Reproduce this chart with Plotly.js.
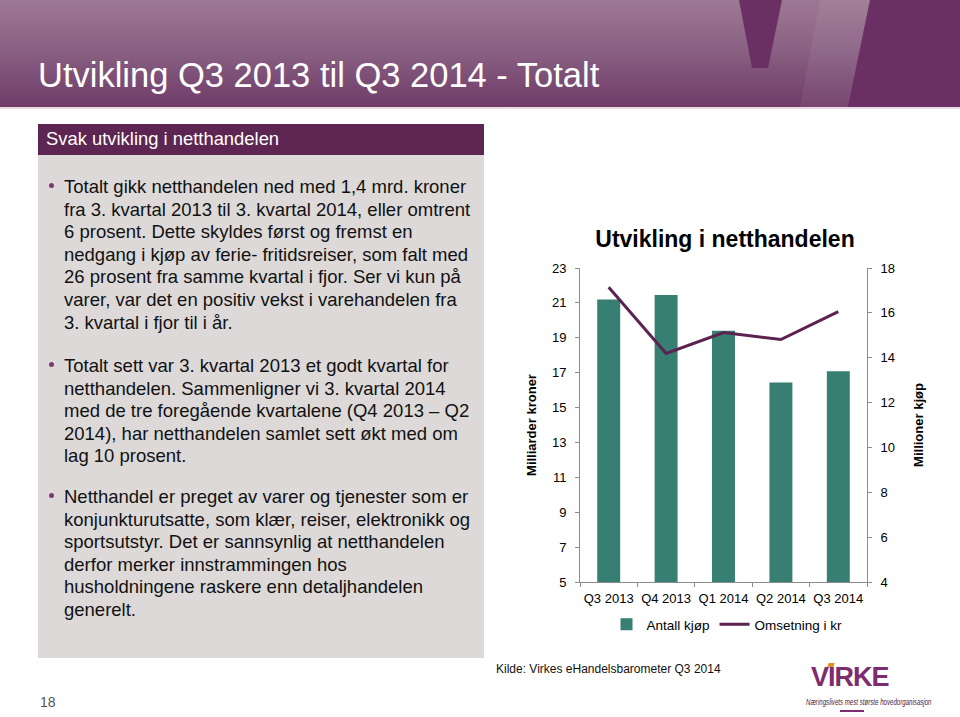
<!DOCTYPE html>
<html>
<head>
<meta charset="utf-8">
<script src="https://cdn.plot.ly/plotly-3.0.1.min.js"></script>
<style>
  body { margin:0; background:#fff; }
  #slide { position:relative; width:960px; height:717px; overflow:hidden; background:#fff;
           font-family:"Liberation Sans", Arial, sans-serif; }
  .abs { position:absolute; }
  .bl { position:absolute; left:64px; font-size:18.5px; line-height:22.6px; color:#111; white-space:nowrap; }
  .dot { position:absolute; width:5px; height:5px; border-radius:50%; background:#7a3a70; left:49px; }
  #chart { position:absolute; left:0; top:0; width:960px; height:717px; z-index:5; }
</style>
</head>
<body>
<div id="slide">
  <div class="abs" style="left:0;top:0;width:960px;height:107px;background:linear-gradient(to bottom,#9d7893 0%,#8a6283 45%,#6f3b69 100%);"></div>
  <svg class="abs" style="left:0;top:0" width="960" height="110">
    <polygon points="820,0 870,0 848,107 800,107" fill="rgba(255,255,255,0.06)"/>
    <polygon points="739,0 782,0 768,68 752,68" fill="#6a3064"/>
    <polygon points="870,0 960,0 960,107 848,107" fill="#6a3064"/>
    <rect x="0" y="107" width="960" height="2" fill="#eadbe6"/>
  </svg>
  <div class="abs" style="left:38px;top:56px;font-size:34.5px;color:#fff;white-space:nowrap;">Utvikling Q3 2013 til Q3 2014 - Totalt</div>

  <div class="abs" style="left:38px;top:124px;width:446px;height:534px;background:#dcd9d8;"></div>
  <div class="abs" style="left:38px;top:124px;width:446px;height:31px;background:#5d2552;"></div>
  <div class="abs" style="left:46px;top:128px;font-size:18.4px;line-height:22px;color:#fff;white-space:nowrap;">Svak utvikling i netthandelen</div>

  <div class="dot" style="top:183px"></div>
  <div class="bl" style="top:176px">Totalt gikk netthandelen ned med 1,4 mrd. kroner<br>fra 3. kvartal 2013 til 3. kvartal 2014, eller omtrent<br>6 prosent. Dette skyldes først og fremst en<br>nedgang i kjøp av ferie- fritidsreiser, som falt med<br>26 prosent fra samme kvartal i fjor. Ser vi kun på<br>varer, var det en positiv vekst i varehandelen fra<br>3. kvartal i fjor til i år.</div>
  <div class="dot" style="top:362px"></div>
  <div class="bl" style="top:355px">Totalt sett var 3. kvartal 2013 et godt kvartal for<br>netthandelen. Sammenligner vi 3. kvartal 2014<br>med de tre foregående kvartalene (Q4 2013 – Q2<br>2014), har netthandelen samlet sett økt med om<br>lag 10 prosent.</div>
  <div class="dot" style="top:493px"></div>
  <div class="bl" style="top:486px">Netthandel er preget av varer og tjenester som er<br>konjunkturutsatte, som klær, reiser, elektronikk og<br>sportsutstyr. Det er sannsynlig at netthandelen<br>derfor merker innstrammingen hos<br>husholdningene raskere enn detaljhandelen<br>generelt.</div>

  <div class="abs" style="left:40px;top:694px;font-size:14px;color:#555;">18</div>
  <div class="abs" style="left:496px;top:662px;font-size:12px;color:#111;white-space:nowrap;">Kilde: Virkes eHandelsbarometer Q3 2014</div>

  <div class="abs" style="left:828px;top:663px;width:6px;height:4px;background:#e0901e;transform:skewX(-20deg);"></div>
  <div class="abs" style="left:811px;top:662px;font-size:27px;font-weight:bold;color:#7c2c6f;letter-spacing:-1px;">VIRKE</div>
  <div class="abs" style="left:806px;top:697px;font-size:8.5px;font-style:italic;color:#4a2040;white-space:nowrap;transform:scaleX(0.72);transform-origin:left;">Næringslivets mest største hovedorganisasjon</div>
  <div class="abs" style="left:840px;top:710px;width:24px;height:2px;background:#7c2c6f;"></div>

  <div id="chart"></div>
</div>
<script>
const quarters = ["Q3 2013", "Q4 2013", "Q1 2014", "Q2 2014", "Q3 2014"];
const antallKjop = [16.6, 16.8, 15.2, 12.9, 13.4];      // Millioner kjøp (right axis)
const omsetning = [21.9, 18.1, 19.3, 18.9, 20.5];       // Milliarder kroner (left axis)
const leftTicks = [5, 7, 9, 11, 13, 15, 17, 19, 21, 23];
const rightTicks = [4, 6, 8, 10, 12, 14, 16, 18];

const axisGrey = "#8c8c8c";
const tickFont = {family: "Liberation Sans, Arial, sans-serif", size: 13, color: "#000"};

const traces = [
  {type: "bar", name: "Antall kjøp", x: quarters, y: antallKjop, yaxis: "y",
   marker: {color: "#377f73"}, width: 0.4, hoverinfo: "skip"},
  {type: "scatter", mode: "lines", name: "Omsetning i kr", x: quarters, y: omsetning, yaxis: "y2",
   line: {color: "#5a2350", width: 3}, hoverinfo: "skip"}
];

const layout = {
  width: 960, height: 717,
  margin: {l: 580, r: 93, t: 268, b: 135, pad: 0},
  paper_bgcolor: "rgba(0,0,0,0)", plot_bgcolor: "rgba(0,0,0,0)",
  font: {family: "Liberation Sans, Arial, sans-serif", color: "#000"},
  showlegend: true,
  title: {text: "Utvikling i netthandelen", font: {size: 23, weight: "bold", color: "#000"},
          xref: "container", yref: "container", x: 725/960, xanchor: "center", y: 1 - 239/717, yanchor: "middle"},
  bargap: 0.6,
  xaxis: {type: "category", showline: true, linecolor: axisGrey, linewidth: 1,
          ticks: "outside", tickson: "boundaries", ticklen: 4, tickcolor: axisGrey, tickangle: 0,
          ticklabelstandoff: 4,
          tickfont: tickFont, showgrid: false, zeroline: false, fixedrange: true},
  yaxis: {side: "right", range: [4, 18], tickvals: rightTicks, showline: true, linecolor: axisGrey,
          ticks: "outside", ticklen: 4, tickcolor: axisGrey, tickfont: tickFont, showgrid: false,
          zeroline: false, ticklabelstandoff: 6,
          title: {text: "Millioner kjøp", font: {size: 13, weight: "bold"}, standoff: 19}},
  yaxis2: {side: "left", overlaying: "y", range: [5, 23], tickvals: leftTicks, showline: true,
           linecolor: axisGrey, ticks: "outside", ticklen: 4, tickcolor: axisGrey, tickfont: tickFont,
           showgrid: false, zeroline: false, ticklabelstandoff: 6,
           title: {text: "Milliarder kroner", font: {size: 13, weight: "bold"}, standoff: 12}},
  legend: {orientation: "h", xref: "container", yref: "container", x: 727/960, xanchor: "center",
           y: 1 - 609/717, yanchor: "top", font: {size: 13.5, color: "#000"}, itemwidth: 30,
           bgcolor: "rgba(0,0,0,0)", traceorder: "normal"}
};

Plotly.newPlot("chart", traces, layout, {staticPlot: true, displayModeBar: false});
</script>
</body>
</html>
